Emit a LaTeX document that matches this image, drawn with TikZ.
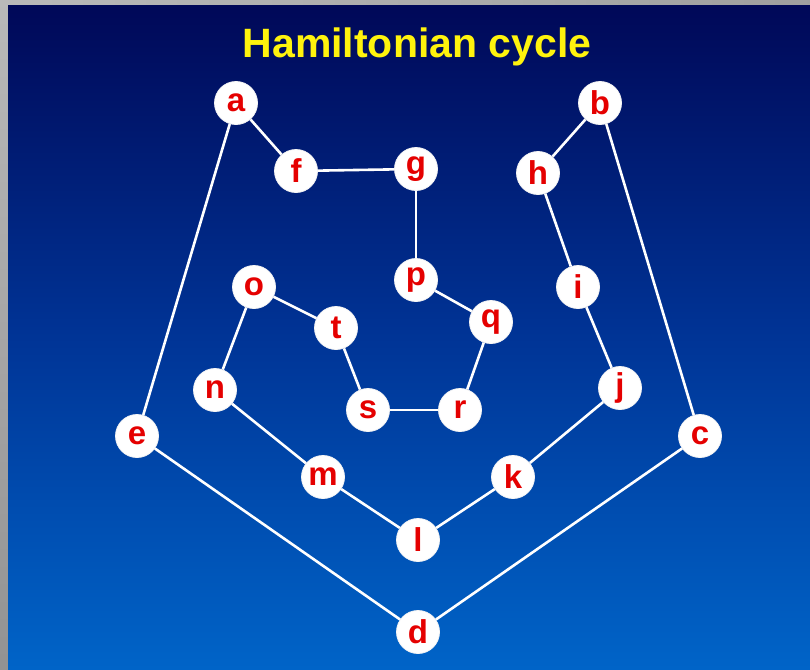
\documentclass[tikz,border=0pt]{standalone}
\usepackage{fontspec}
\setmainfont{Liberation Sans}
\begin{document}
\begin{tikzpicture}[x=1pt,y=-1pt,
  vtx/.style={circle,fill=white,draw=white!92!gray,line width=0.8pt,minimum size=43pt,inner sep=0pt,
    font=\fontsize{33}{33}\selectfont\bfseries,text=red!90!black},
  edge/.style={draw=white,line width=2.6pt},
  title/.style={font=\fontsize{41}{41}\selectfont\bfseries,text=yellow!95!white}]
\useasboundingbox (0,0) rectangle (810,669);
\fill[gray!70] (0,0) rectangle (810,669);
\shade[top color=gray!55,bottom color=gray!85] (0,0) rectangle (8,669);
\shade[left color=gray!55, right color=gray!75] (8,0) rectangle (810,6);
\definecolor{bgtop}{RGB}{0,8,88}
\definecolor{bgmid}{RGB}{0,52,150}
\definecolor{bgbot}{RGB}{0,100,200}
\shade[top color=bgtop,bottom color=bgbot,middle color=bgmid] (8,6) rectangle (810,669);
\node[title] (title) at (417,47) {Hamiltonian cycle};
\node[vtx] (a) at (236,103) {a};
\node[vtx] (b) at (600,103) {b};
\node[vtx] (f) at (296,171) {f};
\node[vtx] (g) at (416,169) {g};
\node[vtx] (h) at (538,173) {h};
\node[vtx] (p) at (416,280) {p};
\node[vtx] (i) at (578,287) {i};
\node[vtx] (o) at (254,287) {o};
\node[vtx] (t) at (336,328) {t};
\node[vtx] (q) at (491,322) {q};
\node[vtx] (n) at (215,390) {n};
\node[vtx] (j) at (620,388) {j};
\node[vtx] (s) at (368,410) {s};
\node[vtx] (r) at (460,410) {r};
\node[vtx] (e) at (137,436) {e};
\node[vtx] (c) at (700,436) {c};
\node[vtx] (m) at (323,477) {m};
\node[vtx] (k) at (513,477) {k};
\node[vtx] (l) at (418,540) {l};
\node[vtx] (d) at (418,632) {d};
\foreach \u/\v in {a/f,f/g,g/p,p/q,q/r,r/s,s/t,t/o,o/n,n/m,m/l,l/k,k/j,j/i,i/h,h/b,b/c,c/d,d/e,e/a}
  \draw[edge] (\u) -- (\v);
\end{tikzpicture}
\end{document}
